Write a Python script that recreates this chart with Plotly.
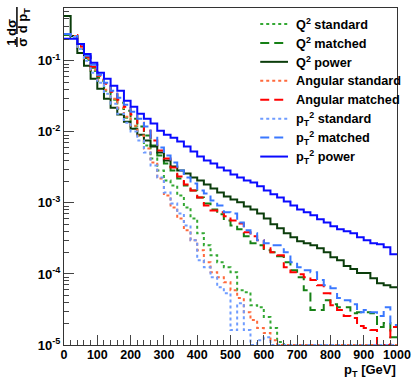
import plotly.graph_objects as go
import math

# ---------------- data (bin contents, 20 GeV bins from 0 to 1000 GeV) ----------------
bin_edges = list(range(0, 1001, 20))

Q2_standard = [0.232, 0.21, 0.147, 0.103, 0.072, 0.0524, 0.0379, 0.0284, 0.0212, 0.0158,
               0.0119, 0.00886, 0.00641, 0.00421, 0.00286, 0.00207, 0.00176, 0.00127, 8.65e-4, 6.05e-4,
               3.73e-4, 2.53e-4, 1.83e-4, 1.46e-4, 1.24e-4, 1.06e-4, 5.9e-5, 5.55e-5, 3.64e-5, 3.41e-5,
               2.47e-5, 1.73e-5, 1.1e-5, 0, 0, 0, 0, 0, 0, 0,
               0, 0, 0, 0, 0, 0, 0, 0, 0, 0]
Q2_matched = [0.232, 0.217, 0.157, 0.11, 0.0798, 0.0577, 0.0432, 0.0334, 0.0258, 0.0199,
              0.0153, 0.0119, 0.00886, 0.00641, 0.00464, 0.00358, 0.00286, 0.00221, 0.00176, 0.0015,
              0.00119, 9.84e-4, 8.1e-4, 6.9e-4, 5.68e-4, 4.83e-4, 4.25e-4, 3.39e-4, 2.7e-4, 2.53e-4,
              2.16e-4, 2.02e-4, 1.77e-4, 1.46e-4, 1.13e-4, 9.0e-5, 5.9e-5, 3.1e-5, 3.1e-5, 4.28e-5,
              3.76e-5, 3.41e-5, 3.41e-5, 2.81e-5, 2.9e-5, 2.9e-5, 2.81e-5, 1.79e-5, 2.04e-5, 1.29e-5]
Q2_power = [0.428, 0.224, 0.129, 0.0851, 0.0559, 0.0405, 0.0293, 0.0219, 0.0175, 0.0139,
            0.0111, 0.00915, 0.00754, 0.00621, 0.00512, 0.00395, 0.00325, 0.00286, 0.00259, 0.00228,
            0.00207, 0.00182, 0.0016, 0.0014, 0.00123, 0.00112, 0.00102, 8.9e-4, 8.1e-4, 7.1e-4,
            6.05e-4, 4.99e-4, 4.39e-4, 3.73e-4, 3.28e-4, 2.88e-4, 2.7e-4, 2.53e-4, 2.3e-4, 2.02e-4,
            1.72e-4, 1.56e-4, 1.29e-4, 1.17e-4, 1.03e-4, 1.03e-4, 8.7e-5, 7.4e-5, 6.95e-5, 6.5e-5]
Ang_standard = [0.239, 0.224, 0.152, 0.107, 0.0748, 0.0541, 0.0392, 0.0293, 0.0219, 0.0164,
                0.0122, 0.00886, 0.00582, 0.0037, 0.00221, 0.00127, 8.65e-4, 6.05e-4, 4.11e-4, 2.98e-4,
                2.16e-4, 1.46e-4, 1.06e-4, 9.0e-5, 7.65e-5, 5.9e-5, 4.57e-5, 2.9e-5, 2.24e-5, 1.73e-5,
                1.47e-5, 1.17e-5, 0, 0, 0, 0, 0, 0, 0, 0,
                0, 0, 0, 0, 0, 0, 0, 0, 0, 0]
Ang_matched = [0.239, 0.232, 0.162, 0.114, 0.0824, 0.0616, 0.0475, 0.0367, 0.0284, 0.0226,
               0.0175, 0.0135, 0.0104, 0.00754, 0.00546, 0.00421, 0.00315, 0.00236, 0.00182, 0.0015,
               0.00119, 9.2e-4, 7.85e-4, 7.4e-4, 6.47e-4, 5.68e-4, 5.15e-4, 3.85e-4, 3.39e-4, 2.98e-4,
               2.3e-4, 2.02e-4, 1.83e-4, 1.24e-4, 1.06e-4, 9.9e-5, 9.0e-5, 8.2e-5, 6.95e-5, 5.37e-5,
               3.64e-5, 3.1e-5, 2.55e-5, 2.39e-5, 1.85e-5, 1.73e-5, 1.62e-5, 0, 0, 1.79e-5]
pT2_standard = [0.239, 0.217, 0.147, 0.1, 0.0679, 0.0491, 0.0344, 0.0249, 0.018, 0.0135,
                0.0101, 0.00754, 0.00512, 0.00336, 0.00228, 0.0014, 9.84e-4, 7.1e-4, 4.83e-4, 2.98e-4,
                1.56e-4, 1.24e-4, 9.0e-5, 6.5e-5, 5.37e-5, 1.62e-5, 3.88e-5, 1.62e-5, 0, 1.17e-5,
                1.29e-5, 0, 0, 0, 0, 0, 0, 0, 0, 0,
                0, 0, 0, 0, 0, 0, 0, 0, 0, 0]
pT2_matched = [0.239, 0.224, 0.168, 0.118, 0.0879, 0.0637, 0.0491, 0.0379, 0.0303, 0.0241,
               0.0192, 0.0153, 0.0119, 0.0083, 0.00601, 0.00464, 0.0037, 0.00286, 0.00228, 0.00188,
               0.0015, 0.00136, 0.00108, 9.2e-4, 7.4e-4, 7.1e-4, 5.3e-4, 4.11e-4, 3.73e-4, 2.98e-4,
               2.7e-4, 2.53e-4, 2.53e-4, 2.02e-4, 1.46e-4, 1.24e-4, 1.13e-4, 1.06e-4, 8.2e-5, 6.95e-5,
               6.3e-5, 4.57e-5, 4.28e-5, 3.76e-5, 2.9e-5, 3.1e-5, 2.9e-5, 2.55e-5, 3.41e-5, 1.91e-5]
pT2_power = [0.204, 0.204, 0.173, 0.125, 0.0937, 0.0679, 0.0559, 0.0446, 0.0379, 0.0275,
             0.0226, 0.018, 0.0153, 0.0131, 0.0104, 0.00915, 0.0083, 0.0073, 0.00621, 0.00528,
             0.0045, 0.00395, 0.00358, 0.00315, 0.00286, 0.00251, 0.00228, 0.00207, 0.00194, 0.00171,
             0.0015, 0.00132, 0.00119, 0.00105, 9.2e-4, 8.1e-4, 7.4e-4, 6.7e-4, 5.9e-4, 5.3e-4,
             4.7e-4, 4.25e-4, 3.98e-4, 3.73e-4, 3.28e-4, 2.98e-4, 2.7e-4, 2.62e-4, 2.37e-4, 1.89e-4]

legend_labels = ["Q<sup>2</sup> standard", "Q<sup>2</sup> matched", "Q<sup>2</sup> power",
                 "Angular standard", "Angular matched",
                 "p<sub>T</sub><sup>2</sup> standard", "p<sub>T</sub><sup>2</sup> matched",
                 "p<sub>T</sub><sup>2</sup> power"]
x_tick_values = [0, 100, 200, 300, 400, 500, 600, 700, 800, 900, 1000]
y_tick_exponents = [-5, -4, -3, -2, -1]

# ---------------- styling ----------------
W, H = 418, 379
L, R, T, B = 64, 18, 7, 34
PW, PH = W - L - R, H - T - B
YMIN = 1e-5
YTOP_LOG = -0.256
FONT = "Liberation Sans, Arial, Helvetica, sans-serif"

styles = [
    ("#33a833", "3px,3px"),
    ("#168016", "9px,5px"),
    ("#0b3d0b", "solid"),
    ("#ff6a3d", "3px,3px"),
    ("#ff0000", "9px,5px"),
    ("#6f9cff", "3px,3px"),
    ("#3a78ff", "9px,5px"),
    ("#0a0aff", "solid"),
]
all_series = [Q2_standard, Q2_matched, Q2_power, Ang_standard, Ang_matched,
              pT2_standard, pT2_matched, pT2_power]


def pxx(x):
    return (x - L) / PW


def pxy(y):
    return (H - B - y) / PH


fig = go.Figure()
for vals, (col, dash) in zip(all_series, styles):
    v = [max(a, YMIN) for a in vals]
    fig.add_trace(go.Scatter(
        x=bin_edges, y=v + [v[-1]], mode="lines",
        line=dict(shape="hv", color=col, width=2, dash=dash),
        showlegend=False, hoverinfo="skip", cliponaxis=True))

shapes = []
annotations = []
# manual legend
for i, (lab, (col, dash)) in enumerate(zip(legend_labels, styles)):
    yy = 23 + 19 * i
    shapes.append(dict(type="line", xref="paper", yref="paper",
                       x0=pxx(262), x1=pxx(290), y0=pxy(yy), y1=pxy(yy),
                       line=dict(color=col, width=2, dash=dash)))
    annotations.append(dict(xref="paper", yref="paper", x=pxx(296), y=pxy(yy),
                            xanchor="left", yanchor="middle", showarrow=False,
                            text="<b>" + lab + "</b>",
                            font=dict(family=FONT, size=12.7, color="black")))

# x-axis title
annotations.append(dict(xref="paper", yref="paper", x=pxx(401), y=pxy(371),
                        xanchor="right", yanchor="middle", showarrow=False,
                        text="<b>p<sub>T</sub> [GeV]</b>",
                        font=dict(family=FONT, size=13, color="black")))
# y-axis title as a rotated fraction
for txt, cx, cy in [("1", 11.5, 41), ("σ", 22.5, 41), ("dσ", 11.5, 26), ("d p<sub>T</sub>", 24, 19)]:
    annotations.append(dict(xref="paper", yref="paper", x=pxx(cx), y=pxy(cy),
                            xanchor="center", yanchor="middle", showarrow=False,
                            textangle=-90, text="<b>" + txt + "</b>",
                            font=dict(family=FONT, size=13, color="black")))
shapes.append(dict(type="line", xref="paper", yref="paper", x0=pxx(16.5), x1=pxx(16.5),
                   y0=pxy(36), y1=pxy(46), line=dict(color="black", width=1.5)))
shapes.append(dict(type="line", xref="paper", yref="paper", x0=pxx(16.5), x1=pxx(16.5),
                   y0=pxy(6), y1=pxy(33), line=dict(color="black", width=1.5)))

y_major = [10.0 ** e for e in y_tick_exponents]
y_minor = [m * 10.0 ** e for e in y_tick_exponents for m in range(2, 10) if m * 10.0 ** e < 10 ** YTOP_LOG]

fig.update_layout(
    width=W, height=H,
    margin=dict(l=L, r=R, t=T, b=B, pad=0),
    paper_bgcolor="white", plot_bgcolor="white",
    shapes=shapes, annotations=annotations,
    font=dict(family=FONT, color="black"),
    xaxis=dict(range=[0, 1000], showgrid=False, zeroline=False,
               showline=True, linecolor="#333333", linewidth=1, mirror=True,
               tickmode="array", tickvals=x_tick_values,
               ticktext=["<b>%d</b>" % v for v in x_tick_values],
               ticks="inside", ticklen=10, tickcolor="#444444", tickwidth=1,
               ticklabelstandoff=-2,
               tickfont=dict(family=FONT, size=12.5, color="black"),
               minor=dict(dtick=20, tick0=0, ticks="inside", ticklen=5,
                          tickcolor="#444444", tickwidth=1, showgrid=False)),
    yaxis=dict(type="log", range=[-5, YTOP_LOG], showgrid=False, zeroline=False,
               showline=True, linecolor="#333333", linewidth=1, mirror=True,
               tickmode="array", tickvals=y_major,
               ticktext=["<b>10<sup>%d</sup></b>" % e for e in y_tick_exponents],
               ticks="inside", ticklen=10, tickcolor="#444444", tickwidth=1,
               tickfont=dict(family=FONT, size=13, color="black"),
               minor=dict(tickmode="array", tickvals=y_minor, ticks="inside", ticklen=5,
                          tickcolor="#444444", tickwidth=1, showgrid=False)),
)

fig.write_html("out.html")
